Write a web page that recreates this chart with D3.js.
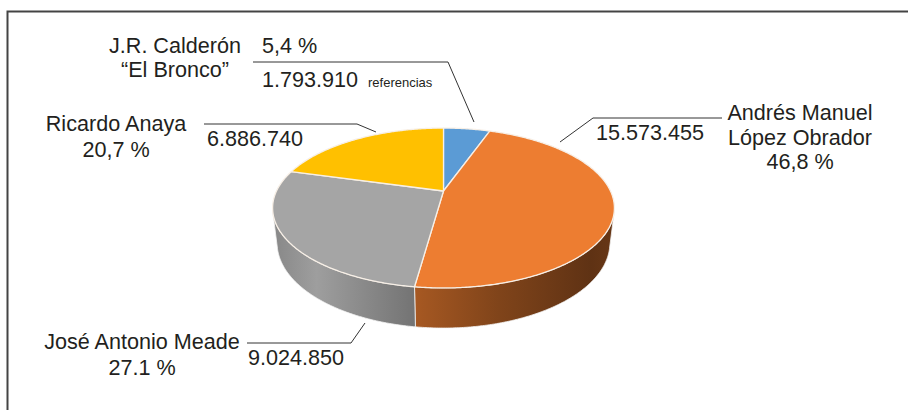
<!DOCTYPE html>
<html>
<head>
<meta charset="utf-8">
<script src="https://cdn.jsdelivr.net/npm/d3@7"></script>
<style>
  html, body { margin: 0; background: #fff; }
  svg { display: block; font-family: "Liberation Sans", Arial, sans-serif; }
</style>
</head>
<body>
<svg id="chart" width="908" height="410"></svg>
<script>
// Presidential election 2018 – votes per candidate
const candidateKeys = ["bronco", "amlo", "meade", "anaya"];
const nameLines = [["J.R. Calderón", "“El Bronco”"], ["Andrés Manuel", "López Obrador"], ["José Antonio Meade"], ["Ricardo Anaya"]];
const votes = [1793910, 15573455, 9024850, 6886740];
const voteLabels = ["1.793.910", "15.573.455", "9.024.850", "6.886.740"];
const percentLabels = ["5,4 %", "46,8 %", "27.1 %", "20,7 %"];
const sliceColors = ["#5b9bd5", "#ed7d31", "#a5a5a5", "#ffc000"];

// Label placement (text anchors, leader polylines)
const labelLayout = {
  bronco: { nameX: 175, nameY: [53, 77], pctAnchor: "start", pctX: 262, pctY: 53,
            voteX: 262, voteY: 87, extra: "referencias", extraX: 368,
            leader: [[253, 62], [448, 62], [474, 122]] },
  amlo:   { nameX: 800, nameY: [120, 145], pctAnchor: "middle", pctX: 800, pctY: 169,
            voteX: 596, voteY: 140,
            leader: [[722, 118], [593, 118], [560, 142]] },
  meade:  { nameX: 142, nameY: [349], pctAnchor: "middle", pctX: 142, pctY: 375,
            voteX: 248, voteY: 365,
            leader: [[247, 343], [351, 343], [365, 323]] },
  anaya:  { nameX: 116, nameY: [131], pctAnchor: "middle", pctX: 116, pctY: 157,
            voteX: 207, voteY: 146,
            leader: [[204, 124], [357, 124], [376, 132]] }
};

// Perspective camera for the 3D pie (unit radius disc, tilted towards the viewer)
const view = { cx: 443.5, cy: 191, F: 698, D: 4.18, tilt: 27.2 * Math.PI / 180, depth: 0.2364 };
const cosT = Math.cos(view.tilt), sinT = Math.sin(view.tilt);
function project(theta, r, y) {
  const X = r * Math.sin(theta), Z = r * Math.cos(theta);
  const yc = y * cosT + Z * sinT;
  const zc = Z * cosT - y * sinT + view.D;
  return [view.cx + view.F * X / zc, view.cy - view.F * yc / zc];
}
function arcPoints(a0, a1, y) {
  const n = Math.max(2, Math.ceil(Math.abs(a1 - a0) / (Math.PI / 360)));
  return d3.range(n + 1).map(i => project(a0 + (a1 - a0) * i / n, 1, y));
}

const svg = d3.select("#chart");
const defs = svg.append("defs");

// Frame (top and left rules)
svg.append("path")
  .attr("d", "M7.5,410 L7.5,11.5 L908,11.5")
  .attr("fill", "none").attr("stroke", "#444").attr("stroke-width", 2);

const color = d3.scaleOrdinal().domain(candidateKeys).range(sliceColors);
const pie = d3.pie().sort(null).value(d => d.v).startAngle(0).endAngle(2 * Math.PI);
const slices = pie(candidateKeys.map((k, i) => ({ key: k, v: votes[i] })));

// Side wall shading: brightness along the screen x-axis
const shadeStops = [[0, 0.82], [0.13, 0.96], [0.42, 0.70], [0.66, 0.54], [0.93, 0.40], [1, 0.44]];
slices.forEach(s => {
  const base = d3.rgb(color(s.data.key));
  const g = defs.append("linearGradient")
    .attr("id", "wall-" + s.data.key)
    .attr("gradientUnits", "userSpaceOnUse")
    .attr("x1", 272).attr("x2", 615).attr("y1", 0).attr("y2", 0);
  shadeStops.forEach(([o, f]) => {
    g.append("stop").attr("offset", o)
      .attr("stop-color", d3.rgb(base.r * f, base.g * f, base.b * f).formatHex());
  });
});

const line = d3.line();
const pieG = svg.append("g");

// Visible part of the cylinder wall (normal facing the camera)
const wallStart = Math.acos(-1 / (view.D * cosT));
const wallEnd = 2 * Math.PI - wallStart;
slices.forEach(s => {
  const lo = Math.max(s.startAngle, wallStart), hi = Math.min(s.endAngle, wallEnd);
  if (lo >= hi) return;
  const pts = arcPoints(lo, hi, 0).concat(arcPoints(hi, lo, -view.depth));
  pieG.append("path")
    .attr("d", line(pts) + "Z")
    .attr("fill", `url(#wall-${s.data.key})`)
    .attr("stroke", "#f2f2f2").attr("stroke-width", 0.8).attr("stroke-linejoin", "round");
});

// Top faces
const apex = project(0, 0, 0);
slices.forEach(s => {
  const pts = [apex].concat(arcPoints(s.startAngle, s.endAngle, 0));
  pieG.append("path")
    .attr("d", line(pts) + "Z")
    .attr("fill", color(s.data.key))
    .attr("stroke", "#f7efe6").attr("stroke-width", 1.3).attr("stroke-linejoin", "round");
});

// Labels and leader lines
const textColor = "#231f20";
const lab = svg.append("g").attr("fill", textColor).style("font-size", "21.6px");
candidateKeys.forEach((k, i) => {
  const L = labelLayout[k];
  svg.append("path")
    .attr("d", line(L.leader))
    .attr("fill", "none").attr("stroke", "#333").attr("stroke-width", 1);
  nameLines[i].forEach((t, j) => {
    lab.append("text").attr("x", L.nameX).attr("y", L.nameY[j])
      .attr("text-anchor", "middle").text(t);
  });
  lab.append("text").attr("x", L.pctX).attr("y", L.pctY)
    .attr("text-anchor", L.pctAnchor).text(percentLabels[i]);
  lab.append("text").attr("x", L.voteX).attr("y", L.voteY)
    .attr("text-anchor", "start").text(voteLabels[i]);
  if (L.extra) {
    lab.append("text").attr("x", L.extraX).attr("y", L.voteY)
      .style("font-size", "13px").text(L.extra);
  }
});
</script>
</body>
</html>
